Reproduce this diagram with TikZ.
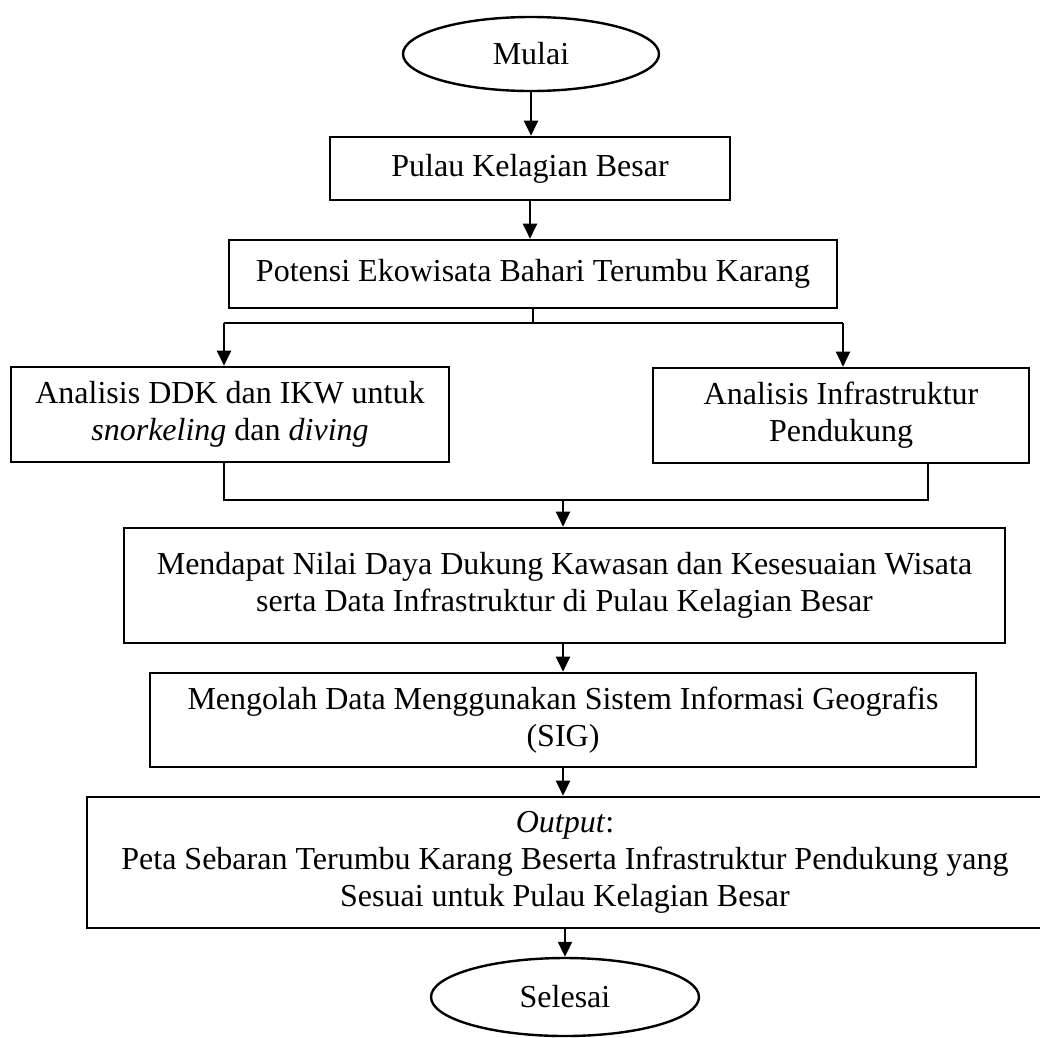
\documentclass[tikz,border=0pt]{standalone}
\usepackage{fontspec}
\setmainfont{Liberation Serif}
\usetikzlibrary{arrows.meta,shapes.geometric}
\begin{document}
\begin{tikzpicture}[x=1pt,y=-1pt,
  font=\fontsize{32}{37}\selectfont,
  box/.style={draw, line width=2.6pt, rectangle, inner sep=0pt, align=center},
  oval/.style={draw, line width=2.4pt, ellipse, inner sep=0pt},
  conn/.style={line width=2pt},
  arr/.style={conn, -{Triangle[length=15pt,width=14pt]}}]
\useasboundingbox (0,0) rectangle (1040,1037);
\clip (0,0) rectangle (1040,1037);

\node[oval, minimum width=256pt, minimum height=74pt] (mulai) at (531,54) {Mulai};
\node[box, minimum width=400pt, minimum height=63pt] (pulau) at (530,168.5) {Pulau Kelagian Besar};
\node[box, minimum width=608pt, minimum height=68pt] (potensi) at (533,274) {Potensi Ekowisata Bahari Terumbu Karang};
\node[box, minimum width=438pt, minimum height=95pt] (kiri) at (230,414.5) {Analisis DDK dan IKW untuk\\\textit{snorkeling} dan \textit{diving}};
\node[box, minimum width=376pt, minimum height=95pt] (kanan) at (841,415.5) {Analisis Infrastruktur\\Pendukung};
\node[box, minimum width=881pt, minimum height=115pt] (mendapat) at (564.5,585.5) {Mendapat Nilai Daya Dukung Kawasan dan Kesesuaian Wisata\\serta Data Infrastruktur di Pulau Kelagian Besar};
\node[box, minimum width=826pt, minimum height=94pt] (mengolah) at (563,720) {Mengolah Data Menggunakan Sistem Informasi Geografis\\(SIG)};
\node[box, minimum width=956pt, minimum height=131pt] (output) at (565,862.5) {\textit{Output}:\\Peta Sebaran Terumbu Karang Beserta Infrastruktur Pendukung yang\\Sesuai untuk Pulau Kelagian Besar};
\node[oval, minimum width=268pt, minimum height=78pt] (selesai) at (565,997) {Selesai};

\coordinate (bl) at (224,323);
\coordinate (bk) at (843,323);
\coordinate (ml) at (224,500);
\coordinate (mk) at (928,500);
\coordinate (mm) at (563,500);

\draw[arr] (mulai.south) -- (mulai.south |- pulau.north);
\draw[arr] (pulau.south) -- (pulau.south |- potensi.north);
\draw[conn] (potensi.south) -- (potensi.south |- bl);
\draw[conn] (bl) -- (bk);
\draw[arr] (bl) -- (bl |- kiri.north);
\draw[arr] (bk) -- (bk |- kanan.north);
\draw[conn] (ml |- kiri.south) -- (ml) -- (mk) -- (mk |- kanan.south);
\draw[arr] (mm) -- (mm |- mendapat.north);
\draw[arr] (mm |- mendapat.south) -- (mm |- mengolah.north);
\draw[arr] (mm |- mengolah.south) -- (mm |- output.north);
\draw[arr] (output.south -| selesai.north) -- (selesai.north);
\end{tikzpicture}
\end{document}
